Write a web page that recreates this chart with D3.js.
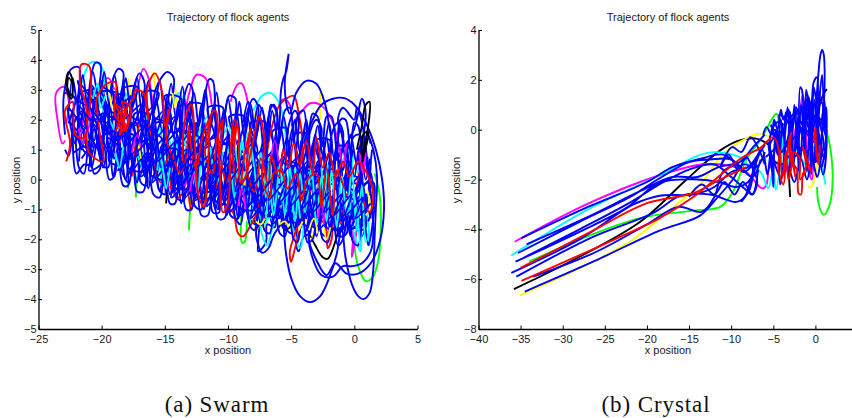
<!DOCTYPE html>
<html>
<head>
<meta charset="utf-8">
<script src="https://cdn.jsdelivr.net/npm/d3@7"></script>
<style>
  html, body { margin: 0; padding: 0; background: #fff; overflow: hidden; }
  svg { display: block; }
</style>
</head>
<body>
<svg id="chart" width="852" height="418"></svg>
<script>
// matlab line colours
const BLUE = '#0000ff', RED = '#ff0000', GREEN = '#00ff00', CYAN = '#00ffff',
      MAGENTA = '#ff00ff', YELLOW = '#ffff00', BLACK = '#000000';

const titleText = 'Trajectory of flock agents';
const xLabelText = 'x position';
const yLabelText = 'y position';
const swarmCaption = '(a) Swarm';
const crystalCaption = '(b) Crystal';

const swarmXDomain = [-25, 5];
const swarmYDomain = [-5, 5];
const swarmXTicks = [-25, -20, -15, -10, -5, 0, 5];
const swarmYTicks = [-5, -4, -3, -2, -1, 0, 1, 2, 3, 4, 5];

const crystalXDomain = [-40, 5];
const crystalYDomain = [-8, 4];
const crystalXTicks = [-40, -35, -30, -25, -20, -15, -10, -5, 0];
const crystalYTicks = [-8, -6, -4, -2, 0, 2, 4];

// --- swarm trajectories, x,y pairs ---
const swarmGreen = [
  [-17.3,-0.6,-17.2,0,-16.9,0.6],
  [-17.9,-0.3,-17.9,0.4],
  [-13.1,-1.7,-13,-1,-12.9,-0.4],
  [-8.9,-1,-8.9,-2.1,-8.7,-2.1,-8.5,-1.4],
  [0,-2.2,0.3,-2.9,0.9,-3.4,1.4,-3.3,1.9,-2.7,2.1,-1.5,2,-0.5,1.6,0.2]
];
const swarmYellow = [
  [-22.4,0.9,-22,1.4],
  [-19.7,2.8,-19.3,3.2,-19,2.7],
  [-17.9,3.4,-17.7,2.8],
  [-15.9,3.6,-15.7,2.9],
  [-14.2,3.1,-14,2.5],
  [-7.9,2.2,-7.8,1.7],
  [-2.7,2.9,-2.7,2],
  [-8.4,-1.2,-8.2,-1.6,-7.4,-1.6,-6.8,-1.4],
  [-4,-1.5,-3.4,-2,-3,-1.5,-2.6,-1.8],
  [0.6,-0.3,1.1,-1,1.4,-0.7]
];
const swarmYellowTop = [
  [-21.3,1.8,-21.1,1.3],
  [-19.4,2.9,-19.2,2.4],
  [-17.1,1.2,-16.9,0.7],
  [-14.4,2.9,-14.2,2.4],
  [-8.9,0.4,-8.7,-0.2],
  [-5.9,-1.5,-5.5,-1.4,-5.2,-1.6],
  [-3.6,-1.7,-3.2,-1.3,-2.9,-1.8],
  [1,-0.3,1.2,-1,0.9,-1.2],
  [-7.8,-1.4,-7.4,-1.5,-7.1,-1.3],
  [-2.4,-1.6,-2.2,-2,-1.9,-1.6],
  [-4.4,-1.7,-4.1,-1.4]
];
const swarmBlack = [
  [-14.9,-0.8,-14.8,-0.2],
  [-12.6,-0.5,-12,-0.8,-11.8,-0.4],
  [-8,-1.3,-7.5,-1.6,-7,-1.3],
  [-5.8,-1.4,-5.5,-1.7,-4.7,-1.4],
  [-3.7,-1.7,-3.1,-2.2,-2.5,-2.6,-2.1,-2.65,-1.6,-2.2,-1.2,-1.6]
];
const swarmBlackTop = [
  [-22.5,2.8,-22.8,3.3,-22.6,3.6,-22.3,3.3,-22.4,2.7,-22.7,2.9,-22.6,3.4,-22.2,3.1],
  [0.2,1,0.6,1.8,0.9,2.5,1.2,2.6,1.1,1.8,0.6,0.8,0.7,1.5,1.1,1.6,0.6,0.6]
];
const swarmMagenta = [
  [-22.9,1.3,-23.1,1.2,-23.5,2,-23.6,2.9,-23,3.1,-22.6,2.6,-22.8,1.9],
  [-21.6,1.6,-21.2,2.5,-20.9,2.1,-21.4,1.2],
  [-20.4,3,-19.5,3.4,-19,3],
  [-17.2,2.9,-16.7,3.7,-16.3,3.4,-15.9,2.2],
  [-13.5,2,-13,3,-12.5,3.5,-11.8,3.4,-11.3,2.5],
  [-9.8,2.6,-9.2,3.2,-8.9,3.2,-8.4,2.5],
  [-5,1.8,-4.3,2.2,-3.5,2.55,-2.7,2.5,-1.8,2,-1.2,1],
  [-6,2.5,-5.5,2.7,-5,2.4],
  [-0.5,0,-0.1,-1.8,-0.2,-2.6,0,-2.2,0.4,-1],
  [-11,-0.5,-10.6,-0.1,-10.2,-0.5],
  [-15,-0.1,-14.4,-0.3,-14,0.2,-13.4,-0.2,-13.1,0.8,-12.7,0],
  [-7.4,-0.6,-6.9,0.4,-6.4,-0.5,-6,0.6,-5.6,-0.7],
  [-3,-1.5,-2.6,-0.6,-2.3,-1.6,-2,-0.5],
  [-19.4,1.6,-18.8,1.1,-18.1,1.9]
];
const swarmMagentaTop = [
  [-21.8,1.7,-21.5,1.2,-21.2,1.8],
  [-17.6,0.9,-17.2,1.5,-16.9,1],
  [-13,-0.4,-12.7,0.2,-12.4,-0.5],
  [-9.2,-0.9,-8.9,-0.3,-8.6,-1],
  [-6.6,0.7,-6.3,1.3,-6,0.6],
  [-2.9,-1.3,-2.6,-0.7,-2.4,-1.5],
  [-1.2,1.1,-0.9,0.5,-0.6,1.2],
  [0.4,0.9,0.7,0.2,0.9,0.9]
];
const swarmCyan = [
  [-21.6,3.2,-20.9,3.9,-20.3,3.9,-19.8,3.5,-19.9,2.4,-19,1.6,-19.5,0.7,-18.3,0.9,-18.6,2,-17.9,2.9,-17.6,1.4,-16.6,0.3,-16.9,1.4,-15.7,1.2,-15.2,-0.2,-14.5,0.9,-14.9,2,-13.8,2.9,-13.4,1.2,-12.7,-0.2,-12.8,0.9,-11.6,2.1,-11.9,0.2,-11,-0.6,-10.8,1,-9.9,1.8,-10.1,0.1,-9.2,-0.9,-9.3,0.4,-8.3,1.6,-8.6,-0.4,-7.4,-1.1,-7.8,0.5],
  [-8,2.3,-7.3,2.8,-6.7,2.9,-6,2.6,-5.6,2,-5.4,1.2,-5.6,0,-6.3,-1.2,-7.4,-1.4,-6.9,-2.2,-6.3,-1.4,-5.5,-1,-4.9,-1.6,-4.3,-2.3,-3.9,-1.2,-3.1,0.6,-2.7,-0.7,-1.8,0.9,-2.1,-0.9,-1.1,-1.5,-1.2,0.4,-0.2,1,-0.4,-1,0.5,-2.4,0.6,-1.2,1.2,-2.2,0.9,-0.8,0.2,0.3],
  [-16.5,2.2,-16,0.9,-15.4,1.7,-14.9,0.4,-14.2,1.4,-13.7,-0.3,-13.2,0.6],
  [-11.4,1.1,-10.9,-0.2,-10.4,0.9,-9.7,-0.5,-9.1,0.8,-8.5,-1.1,-8.1,0.2,-7.3,-0.7,-6.8,0.7,-6.3,-1,-5.8,0.2,-5.2,-0.9,-4.6,0.5,-4.2,-1.6,-3.6,0.3],
  [-8.3,-1.5,-7.9,-0.9,-7.1,-1.5,-6.6,-0.8]
];
const swarmCyanTop = [
  [-20.7,2.7,-20.3,3.2,-20.1,2.4,-19.7,2.8],
  [-18.9,0.9,-18.6,0.4,-18.3,1.1],
  [-15.6,0.3,-15.4,0.9,-15.1,0.2,-14.9,-0.3,-14.6,0.4],
  [-12.7,0.3,-12.4,-0.4,-12.2,0.5],
  [-9.7,0.2,-9.5,-0.6,-9.2,0.5,-8.9,-0.3],
  [-7,-1.3,-6.7,-0.4,-6.4,-1.2,-6.1,-0.2],
  [-4.9,-1.1,-4.6,-0.3,-4.3,-1.3],
  [-2.6,0.4,-2.4,-0.5,-2.1,0.5],
  [-0.4,-1.2,-0.1,-0.4,0.3,-1.5,0.5,-2.4],
  [-9.5,1.5,-9.2,0.5,-8.9,1.3,-8.5,0.3,-8.2,1.1,-7.7,-0.2,-7.4,0.9,-7,-0.6,-6.7,0.6,-6.3,-0.9,-5.9,0.5,-5.5,-1.2,-5.1,0.4,-4.7,-1.4,-4.3,0.2,-3.9,-1.1,-3.4,0.4,-3,-1.5,-2.6,0.1,-2.2,-1.4,-1.8,0.3,-1.4,-1.6,-1,0.1,-0.6,-1.2,-0.2,0.3,0.2,-1.7,0.6,-0.2,0.9,-2.1,1.2,-1.7]
];
const swarmBlueBack = [-22.3,2.2,-22,0.2,-21.4,0.5,-20.9,0.5,-21.1,2.1,-20.4,1.9,-20,0.5,-19.5,0.4,-19.2,1.9,-18.7,2.3,-18.4,0.3,-17.9,-0.1,-18.1,1.6,-17.3,1.9,-16.9,-0.1,-16.4,-0.2,-16.6,1.3,-15.9,1.7,-15.5,-0.3,-15,-0.5,-15.2,1.2,-14.4,1.6,-14.1,-0.6,-13.5,-0.7,-13.7,1,-13,1.3,-12.6,-0.9,-12.1,-1,-12.3,0.7,-11.5,1.1,-11.2,-1.1,-10.7,-1.1,-10.9,0.6,-10.1,0.9,-9.8,-1.2,-9.2,-1.3,-9.4,0.4,-8.7,0.7,-8.3,-1.3,-7.8,-1.5,-8,0.3,-7.2,0.5,-7.6,-2,-7.6,-2.4,-7,-2.1,-6.9,-1.5,-6.3,-1.6,-6.5,0.2,-5.8,0.4,-5.5,-1.6,-4.9,-1.8,-5.1,0,-4.3,0.2,-4.6,-2.2,-4.4,-2.4,-4,-1.9,-3.5,-1.8,-3.7,-0.1,-2.9,0,-2.6,-1.8,-2,-1.9,-2.3,-0.2,-1.5,-0.2,-1.2,-1.9,-0.6,-1.8,-0.8,-0.3,0,-0.4,0.3,-1.7,0.9,-1.6,0.7,-0.2,1.5,-0.1,1.5,-1];
const swarmBlueFront = [-22.9,1.5,-23,2.8,-22.4,3.7,-21.8,3.75,-21.9,2.2,-21.3,1.6,-20.9,3.3,-20.5,3.9,-20.1,3.85,-20.3,2.4,-19.6,1.8,-19.2,3.2,-18.7,3.7,-18.3,3.6,-18.6,2.2,-17.9,1.4,-17.5,3.0,-17.0,3.55,-16.6,3.2,-16.9,1.8,-16.1,1.1,-15.8,2.9,-15.2,3.45,-14.8,3.6,-14.3,3.4,-14.6,1.9,-13.9,1.2,-13.5,2.7,-13.1,3.2,-12.8,3.0,-13,1.5,-12.3,0.9,-11.9,2.5,-11.5,3.35,-11.2,3.3,-11.0,2.2,-10.6,0.8,-10.2,2.3,-9.9,2.8,-9.4,2.7,-9.6,1.1,-8.9,0.5,-8.5,2.2,-8.0,2.7,-7.6,2.4,-7.9,1,-7.1,0.3,-6.8,2.1,-6.4,2.5,-6.1,2.2,-6.3,0.8,-5.6,0.2,-5.2,1.8,-4.7,2.3,-4.4,2,-4.6,0.5,-3.9,0,-3.5,1.6,-3.0,2.0,-2.6,1.7,-2.8,0.3,-2.1,-0.2,-1.8,1.5,-1.3,1.9,-0.9,1.6,-1.1,0.1,-0.4,-0.4,-0.1,1.4,0.4,1.5,0.7,1.1,0.5,-0.2,1,-0.6,1.3,0.6];
const swarmBlueMid = [-22.7,2.4,-22.1,1.2,-21.6,2.7,-21,1.4,-20.6,2.6,-20.7,1.1,-19.9,1.3,-19.7,2.5,-19,1,-18.8,2.7,-18.2,1.1,-17.7,2.4,-17.8,0.7,-17,0.9,-16.7,2.5,-16.2,0.6,-15.9,2.2,-15.3,0.4,-14.9,2.5,-14.6,0.2,-14,0.3,-13.8,2.3,-13.3,0,-12.9,2,-12.5,-0.2,-12,1.9,-11.7,-0.4,-11.1,-0.3,-11,1.8,-10.4,-0.5,-10,1.6,-9.6,-0.7,-9.1,1.5,-8.8,-0.8,-8.2,-0.8,-8.1,1.4,-7.5,-0.9,-7.1,1.4,-6.7,-1,-6.2,1.5,-5.9,-1.1,-5.3,-1.1,-5.2,1.3,-4.6,-1.2,-4.2,1.3,-3.8,-1.3,-3.3,1.2,-3,-1.3,-2.5,-1.2,-2.4,1.1,-1.8,-1.3,-1.4,1.2,-1,-1.4,-0.5,0.9,-0.2,-1.3,0.3,-1.2,0.4,0.8,0.9,-1,1.3,0.2,1.5,-0.8,1.1,-1.4];
const swarmBlueOuter = [-5.6,-1.5,-5.4,-2.5,-5,-3.3,-4.3,-3.9,-3.5,-4.1,-2.7,-3.9,-2,-3.3,-1.4,-2.5,-1,-1.6,-0.7,-2.6,-0.2,-3.5,0.3,-3.9,0.7,-4,1.2,-3.8,1.5,-3,1.6,-2,1.7,-1,1.8,0.1,1.5,1,1,1.6];
const swarmBlueArc = [-4,1.2,-3.4,1.9,-2.6,2.5,-1.7,2.7,-0.8,2.72,0,2.5,0.9,1.9,1.7,1,2.2,0,2.35,-1,2,-2.1,1.3,-2.8,0.3,-3.15,-0.6,-3.15,-1.5,-2.8,-2.2,-3.2,-3,-2.7,-3.6,-2,-3.4,-1.2];
const swarmBlueSpike = [-6.1,1,-5.9,2,-5.8,3,-5.6,3.4,-5.4,3.6,-5.2,4.2,-5.5,3.3,-5.4,2.6,-5.1,2.2,-4.6,2.9,-3.8,3.3,-3,3.2,-2.3,2.5,-2,1.8,-1.8,1.2,-2.6,-0.6,-3.6,-1.9,-3.4,-2.5,-2.6,-3.2,-1.7,-3.25,-0.9,-2.9,-0.2,-2.9,0.6,-2.8,1.3,-2.4,1.5,-1.8,0.5,2.1,0.2,2.4,0,2,-0.9,2.4,-1.3,2,-0.9,1,-7.7,-1.6,-7.6,-2.2,-7.3,-2.45,-6.8,-2.3,-6.3,-1.8,-0.2,1.5,0.6,2.7,0.9,2.2,0.4,0.8];
const swarmRowUpper = [-22.8,3,-21.3,2.5,-21.9,3.3,-20.4,2.5,-20.9,3.2,-19.5,2.4,-20.1,3.1,-18.6,2.6,-19.2,2,-17.7,2.8,-18.3,2,-16.9,2.5,-17.4,1.8,-16,2.4,-16.5,1.6,-15.1,2.3,-15.7,1.4,-14.2,2.1,-14.8,1.3,-13.4,1.9,-13.9,1.1,-12.5,1.9,-13.1,1,-11.6,1.7,-12.2,0.9,-10.7,1.7,-11.3,0.7,-9.9,1.5,-10.4,0.5,-9,1.4,-9.5,0.4,-8.1,1.2,-8.7,0.3,-7.3,1,-7.8,0.2,-6.4,1,-6.9,0.1,-5.5,0.8,-6.1,0,-4.6,0.7,-5.2,-0.1,-3.7,0.6,-4.3,-0.2,-2.9,0.5,-3.4,-0.3,-2,0.4,-2.5,-0.3,-1.1,0.3,-1.7,-0.4,-0.3,0.3,-0.8,-0.4,0.6,0.2,0,-0.5,1.2,0];
const swarmRowCentre = [-22.6,2.4,-21.2,1.7,-21.9,2.5,-20.3,1.7,-20.9,2.4,-19.4,1.5,-20,2.2,-18.5,1.8,-19.1,1.2,-17.6,1.9,-18.2,1.1,-16.8,1.7,-17.3,0.9,-15.9,1.5,-16.4,0.8,-15,1.4,-15.6,0.6,-14.1,1.3,-14.7,0.5,-13.3,1,-13.8,0.3,-12.4,1.1,-13,0.2,-11.5,0.8,-12.1,0,-10.6,0.8,-11.2,-0.1,-9.8,0.6,-10.3,-0.3,-8.9,0.5,-9.4,-0.4,-8,0.4,-8.6,-0.5,-7.2,0.2,-7.7,-0.6,-6.3,0.1,-6.8,-0.7,-5.4,0,-6,-0.8,-4.5,-0.1,-5.1,-0.9,-3.6,-0.2,-4.2,-1,-2.8,-0.3,-3.3,-1.1,-1.9,-0.4,-2.4,-1.1,-1,-0.5,-1.6,-1.2,-0.2,-0.5,-0.7,-1.2,0.7,-0.6,0.1,-1.3,1.3,-0.8];
const swarmRowLower = [-22.2,1.5,-20.8,0.9,-21.4,1.7,-19.9,0.8,-20.4,1.5,-19,0.7,-19.6,1.4,-18.1,0.8,-18.7,0.3,-17.2,1,-17.8,0.2,-16.4,0.9,-16.9,0.1,-15.5,0.7,-16,-0.1,-14.6,0.6,-15.2,-0.2,-13.7,0.4,-14.3,-0.4,-12.9,0.2,-13.4,-0.6,-12,0.1,-12.6,-0.7,-11.1,-0.1,-11.7,-0.9,-10.2,-0.2,-10.8,-1,-9.4,-0.3,-9.9,-1.1,-8.5,-0.4,-9,-1.2,-7.6,-0.5,-8.2,-1.3,-6.8,-0.6,-7.3,-1.4,-5.9,-0.7,-6.5,-1.5,-5,-0.8,-5.6,-1.6,-4.1,-0.9,-4.7,-1.6,-3.2,-1,-3.8,-1.7,-2.4,-1,-2.9,-1.7,-1.5,-1.1,-2,-1.8,-0.6,-1.1,-1.2,-1.8,0.2,-1.1,-0.3,-1.7,1,-1.1];
const swarmRowA = [-21.8,2.9,-20.5,3,-21.2,2.1,-19.7,2.1,-20.2,2.9,-18.9,2.9,-19.3,2.3,-18,2.2,-18.4,3,-17.2,3.1,-17.6,2.1,-16.2,2,-16.8,2.9,-15.5,2.9,-15.9,2.1,-14.5,2,-15,2.8,-13.7,2.7,-14.1,1.7,-12.8,1.6,-13.2,2.5,-12,2.5,-12.5,1.5,-11.1,1.4,-11.6,2.4,-10.4,2.4,-10.8,1.3,-9.4,1.2,-9.9,2.1,-8.7,2.1,-9.1,1,-7.7,0.9,-8.2,1.9,-7,1.9,-7.4,0.7,-6.1,0.6,-6.5,1.6,-5.3,1.7,-5.7,0.6,-4.4,0.5,-4.8,1.5,-3.6,1.5,-4,0.4,-2.7,0.3,-3.1,1.3,-1.9,1.3,-2.3,0.2,-1,0.1,-1.4,1.1,-0.2,1,-0.6,0,0.6,-0.1,0.3,0.9,1.1,0.7];
const swarmRowB = [-21.6,0.7,-20.6,1.2,-21,0.3,-19.9,0.6,-20.3,1.3,-19,1.6,-19.4,0.6,-18.3,0.5,-18.7,1.3,-17.5,1.5,-17.9,0.4,-16.6,0.3,-17,1.2,-15.7,1.3,-16.2,0.2,-14.9,0,-15.3,0.9,-14,1,-14.4,-0.2,-13.1,-0.3,-13.6,0.6,-12.3,0.6,-12.7,-0.5,-11.4,-0.6,-11.9,0.4,-10.6,0.2,-11,-0.7,-9.7,-0.8,-10.1,0.2,-8.8,0.1,-9.2,-0.9,-7.9,-1,-8.3,0,-7,-0.2,-7.5,-1.1,-6.1,-1.2,-6.6,-0.2,-5.3,-0.3,-5.7,-1.3,-4.4,-1.4,-4.8,-0.4,-3.5,-0.5,-4,-1.5,-2.7,-1.5,-3.1,-0.5,-1.8,-0.6,-2.2,-1.6,-0.9,-1.6,-1.3,-0.6,0,-0.7,-0.4,-1.6,0.7,-1.5,0.3,-0.6,1.3,-0.5];
const swarmRowC = [-22.5,1.9,-21.7,1.6,-21.5,2.2,-20.7,1.9,-20.6,2.7,-19.9,2.7,-19.8,1.9,-19,2.1,-19,2.8,-18.2,2.8,-18.2,1.6,-17.4,1.3,-17.4,2.2,-16.5,2.2,-16.5,1.2,-15.7,1,-15.7,1.9,-14.8,1.8,-14.8,0.8,-14,0.8,-14,1.6,-13.2,1.6,-13.2,0.5,-12.3,0.4,-12.3,1.4,-11.5,1.3,-11.4,0.3,-10.6,0.1,-10.6,1.2,-9.7,1.1,-9.7,0,-8.9,-0.1,-8.9,1,-8,0.9,-8,-0.2,-7.1,-0.3,-7.1,0.8,-6.3,0.7,-6.3,-0.4,-5.4,-0.5,-5.4,0.6,-4.6,0.5,-4.6,-0.5,-3.7,-0.6,-3.7,0.4,-2.9,0.3,-2.9,-0.8,-2,-0.8,-2,0.2,-1.2,0.2,-1.2,-0.9,-0.3,-1,-0.3,0.1,0.5,0,0.5,-1,1.2,-0.3];
const swarmFillTopA = [-22.6,2.3,-22.3,3.4,-21.9,2.5,-21.5,3.5,-21.1,2.4,-20.7,3.6,-20.2,2.6,-19.8,3.6,-19.4,2.5,-19,3.5,-18.5,2.4,-18.1,3.4,-17.7,2.3,-17.2,3.4,-16.8,2.2,-16.3,3.3,-15.9,2.2,-15.4,3.3,-15,2,-14.5,3.2,-14.1,2,-13.6,3.1,-13.2,1.9,-12.7,2.9,-12.3,1.8,-11.8,3,-11.4,1.7,-10.9,2.9,-10.5,1.6,-10,2.7,-9.5,1.5,-9.1,2.6,-8.7,1.4,-8.2,2.5,-7.8,1.4,-7.3,2.4,-6.9,1.2,-6.5,2.3,-6,1.2,-5.6,2.1,-5.1,1,-4.7,2,-4.3,0.9,-3.8,2,-3.4,0.8,-2.9,1.8,-2.5,0.8,-2,1.9,-1.6,0.7,-1.1,1.7,-0.7,0.7,-0.3,1.5,0.2,0.5,0.6,1.4,1.1,0.2,1.4,1];
const swarmFillTopB = [-22.9,2.9,-22.1,2.7,-22.6,1.9,-21.7,2.9,-21.3,2.1,-20.9,3.1,-20.4,2.2,-20,3.3,-19.6,2.2,-19.2,3,-18.8,2.1,-18.3,3.1,-17.9,1.9,-17.4,2.9,-17,1.8,-16.6,2.9,-16.1,1.7,-15.7,2.7,-15.2,1.6,-14.8,2.8,-14.3,1.5,-13.9,2.6,-13.4,1.5,-13,2.6,-12.5,1.4,-12.1,2.5,-11.6,1.2,-11.2,2.4,-10.7,1.1,-10.3,2.3,-9.8,1,-9.3,2.2,-8.9,1,-8.4,2,-8,0.9,-7.5,2,-7.1,0.8,-6.7,1.9,-6.2,0.7,-5.8,1.7,-5.4,0.7,-4.9,1.7,-4.5,0.5,-4,1.6,-3.6,0.4,-3.1,1.5,-2.7,0.5,-2.2,1.4,-1.8,0.3,-1.3,1.3,-0.9,0.3,-0.5,1.2,0,0.1,0.4,1.1,0.9,0,1.2,0.7];
const swarmFillLowA = [-21.8,0.6,-21.5,1.6,-21,0.8,-20.6,1.7,-20.1,0.7,-19.7,1.8,-19.3,0.6,-18.8,1.6,-18.4,0.5,-17.9,1.5,-17.5,0.3,-17.1,1.4,-16.6,0.1,-16.2,1.2,-15.7,0,-15.3,1.1,-14.8,-0.2,-14.3,1,-13.9,-0.3,-13.5,0.8,-13,-0.5,-12.6,0.6,-12.1,-0.6,-11.7,0.6,-11.2,-0.7,-10.8,0.4,-10.3,-0.8,-9.9,0.3,-9.4,-1,-9,0.1,-8.5,-1,-8.1,0,-7.6,-1.1,-7.2,-0.1,-6.7,-1.2,-6.3,-0.2,-5.9,-1.3,-5.4,-0.3,-5,-1.4,-4.5,-0.4,-4.1,-1.5,-3.6,-0.5,-3.2,-1.6,-2.7,-0.6,-2.3,-1.6,-1.8,-0.6,-1.4,-1.7,-0.9,-0.7,-0.5,-1.6,0,-0.7,0.4,-1.6,0.9,-0.7,1.3,-1.3];
const swarmFillLowB = [-22.2,0.9,-21.2,1.1,-20.8,0.4,-20.3,1.3,-19.9,0.4,-19.4,1.2,-19.1,0.1,-18.6,1.1,-18.1,0,-17.7,1,-17.2,-0.1,-16.8,0.9,-16.3,-0.3,-15.9,0.7,-15.4,-0.4,-15,0.6,-14.6,-0.5,-14.1,0.4,-13.7,-0.8,-13.2,0.3,-12.8,-0.9,-12.4,0.2,-11.9,-1,-11.5,0,-11,-1,-10.5,-0.1,-10.1,-1.2,-9.6,-0.2,-9.2,-1.3,-8.8,-0.3,-8.3,-1.4,-7.9,-0.4,-7.4,-1.5,-7,-0.5,-6.5,-1.5,-6.1,-0.6,-5.6,-1.6,-5.2,-0.7,-4.7,-1.7,-4.3,-0.8,-3.9,-1.8,-3.4,-0.9,-3,-1.9,-2.5,-0.9,-2.1,-1.9,-1.6,-1,-1.2,-1.9,-0.7,-1,-0.3,-1.9,0.2,-0.9,0.6,-1.9,1.1,-1];
const swarmFillCentre = [-22.4,1.3,-22,2.1,-21.6,1,-21.1,2.3,-20.6,1.3,-20.2,2.2,-19.7,1.1,-19.3,2.4,-18.9,0.8,-18.4,2.1,-18,0.7,-17.5,1.9,-17.1,0.6,-16.7,2,-16.2,0.5,-15.8,1.7,-15.3,0.3,-14.9,1.6,-14.4,0.1,-14,1.5,-13.5,-0.1,-13.1,1.3,-12.7,-0.2,-12.2,1.2,-11.8,-0.4,-11.3,1.1,-10.9,-0.4,-10.4,0.9,-10,-0.6,-9.5,0.8,-9.1,-0.7,-8.6,0.7,-8.2,-0.8,-7.7,0.6,-7.3,-0.8,-6.8,0.5,-6.4,-0.9,-6,0.4,-5.5,-1,-5.1,0.3,-4.6,-1.1,-4.2,0.1,-3.7,-1.1,-3.3,0.1,-2.8,-1.2,-2.4,0,-1.9,-1.2,-1.5,-0.1,-1,-1.3,-0.6,-0.1,-0.2,-1.3,0.3,-0.2,0.7,-1.2,1.2,-0.2];
const swarmFringeLow = [-9.6,-0.5,-9.4,-1.3,-9,-1.5,-8.7,-0.8,-8.2,-1.6,-7.9,-1.7,-7.5,-0.9,-7.1,-1.7,-6.7,-1.8,-6.3,-0.9,-5.9,-1.8,-5.5,-1.9,-5.2,-1,-4.8,-2,-4.5,-2.1,-4.1,-1.1,-3.7,-2.1,-3.3,-2,-2.9,-1.1,-2.5,-2,-2.1,-2.1,-1.7,-1.2,-1.3,-2.2,-0.9,-2,-0.5,-1.1,-0.1,-2.1,0.3,-2.2,0.7,-1.2,1.1,-2.2,1.3,-1.9,1.6,-0.9];
const swarmFringeUp = [-8.8,1.9,-8.4,2.6,-8,1.7,-7.6,2.5,-7.2,2.2,-6.9,1.5,-6.6,2.5,-6.2,2.3,-5.9,1.4,-5.5,2.3,-5.1,2.4,-4.8,1.3,-4.4,2.2,-4,2.3,-3.7,1.2,-3.3,2.2,-2.9,2.1,-2.5,1.1,-2.2,2.1,-1.8,2.1,-1.4,1,-1.1,2,-0.7,2,-0.3,0.9,0,1.9,0.3,1.8,0.7,0.6,1,1.5,1.3,1.2];
const swarmFringeLeft = [-22.9,1,-22.6,0.8,-22.2,1.8,-21.8,0.4,-21.4,0.2,-21,1.3,-20.6,0.2,-20.2,0.3,-19.8,1.1,-19.4,0,-19,0.1,-18.7,0.9,-18.3,-0.2,-17.9,-0.2,-17.5,0.7,-17.2,-0.4,-16.7,-0.4,-16.3,0.5,-15.9,-0.5,-15.4,-0.6,-15,0.4,-14.6,-0.8,-14.2,-0.8,-13.8,0.2,-13.3,-1,-12.9,-1,-12.5,0,-12.1,-1.2,-11.6,-1.2,-11.2,-0.2,-10.8,-1.3,-10.3,-1.3,-9.9,-0.4];
const swarmBlobRed = [-18.9,1.6,-18.4,2.3,-18.9,2.5,-18.2,1.8,-18.6,1.5,-18.1,2.3,-18.7,2.2,-18.3,1.6,-17.9,2,-18.4,2.6,-17.7,2.4,-18.1,1.6];
const swarmRedA = [-22.8,0.6,-22.5,1.2,-22.9,2.3,-22.3,2.6,-22.1,1.5,-21.4,1.4,-21.2,2.4,-21.7,3.2,-21.6,3.85,-21,3.8,-20.9,2.6,-21.2,1.7,-21,0.9,-20.5,0.7,-19.9,0.6,-20.2,1.7,-20.4,2.7,-19.6,3.2,-18.9,3.25,-19,2.3,-18.6,1.8,-18,2.4,-17.5,2.7,-17.3,3,-16.7,2.9,-16.3,2,-16.4,3,-15.8,3.55,-15.2,2.9,-15,1.8,-14.6,2.4,-14.9,1.4,-14.3,0.7,-13.8,0.2,-13.3,0.8,-13.1,1.8,-12.9,1,-12.5,0.3,-12.1,1.3,-11.5,2,-11.8,0.8,-11.2,0.2,-10.9,1.3,-10.4,2,-10.6,0.8,-10.1,-0.1,-9.7,1.2,-9.3,1.9,-9.6,0.6,-9.1,-0.3,-8.7,0.8,-8.2,1.7,-8.5,0.3,-7.9,-0.4,-7.4,0.7,-6.8,-0.2,-6.6,0.8,-6,0.1,-5.6,1,-5.2,0.4,-4.8,1.2,-4.3,0.5,-3.8,1.3,-3.3,0.2,-3,1.4,-2.5,0.4,-2,0.9,-1.5,0.1,-0.9,0.6,-0.4,0.1,0.3,0.6,1,0.2,1.5,-0.5,1.2,-1.1,0.6,-0.6];
const swarmRedB = [-17.6,0.1,-17.3,1.2,-16.6,2.5,-16.2,1.6,-15.9,0.5,-15.3,-0.1,-14.9,0.6,-14.4,0.9,-14.5,-0.3,-13.9,-0.6,-13.3,-0.3,-12.9,-1,-12.4,0,-11.8,-0.7,-11.1,-0.5,-10.7,0.5,-10.2,-0.9,-9.6,-1.1,-9.2,-1.8,-8.8,-1.9,-8.3,-1.6,-7.8,-1.2,-7.2,-0.2,-6.8,1.2,-6.3,2.1,-5.9,2.5,-5.4,2.7,-4.8,2.8,-4.4,2.2,-4.1,1.2,-4.3,0.1,-3.9,-0.7,-3.4,-0.3,-5.1,-2.4,-5,-2.75,-4.7,-2.3,-3.9,-1.1,-3.2,-0.5,-2.8,-1.3,-2.3,-1.5,-2.1,-2.3,-1.8,-2,-1.6,-0.9,-1,-1.5,-0.6,-0.5,0,-0.4,0.6,0.4,1.2,0.1];
const swarmRedC = [-13.6,0.6,-13.4,2,-12.9,2.5,-12.6,1,-12.3,-0.6,-11.9,-0.9,-11.6,0.3,-11.3,2.2,-11,2.3,-10.7,0.7,-10.4,-1.1,-10,-0.8,-9.8,1,-9.5,2,-9.2,1.7,-9,-0.1,-8.6,0.1,-8.2,0.9,-7.5,2.1,-7.1,1.2,-7.3,0,-6.7,-0.6,-6.4,0.2,-5.8,0.3,-5.3,-0.3,-4.6,0.2,-4.2,-0.7,-3.7,0,-3,0.2,-2.6,-0.9,-2.2,0.4,-1.7,-1.2,-1.4,0.3,-0.8,-0.3];
const swarmBlueTop = [-22.2,1.9,-21.5,2.3,-21.9,1.4,-21.2,0.9,-20.7,1.8,-20.1,1.2,-19.6,2.2,-19.1,1.4,-18.5,2.8,-18.2,1.6,-17.6,1.8,-17.1,1.2,-16.5,1.9,-16,1,-15.6,1.5,-14.9,1.1,-14.2,0.1,-14.5,-0.6,-13.6,-0.2,-13,0.5,-12.4,-0.4,-12.2,0.6,-11.4,-0.3,-11,0.6,-10.3,-0.3,-9.9,0.6,-9.3,-0.7,-9,0.2,-8.4,-0.5,-7.7,0.4,-7.2,-0.9,-6.6,0.6,-6.1,-0.4,-5.5,-0.5,-5,0.5,-4.5,-0.6,-4,0.5,-3.4,-0.9,-2.9,0.6,-2.2,-1,-1.7,0.4,-1.1,-0.7,-0.6,0.3,-0.1,-1,0.5,0.1,1,-1.1];

// --- crystal trajectories ---
const crystalGreen = [
  [-34,-5.3,-27.2,-4.3,-20.8,-3.55,-14.5,-3.25,-11.3,-3.1,-9.8,-2.5,-8.2,-1.2,-6.5,-0.4,-4.6,0.64,-4.3,-0.4],
  [0.2,-2.3,0.4,-3,1,-3.42,1.7,-3,2.05,-2,1.8,-0.8,1.3,0,0.9,0.7]
];
const crystalYellow = [
  [-35.1,-6.65,-27,-5.4,-21.6,-4.4,-17.7,-3.35,-13.3,-2.05,-11.3,-1.1,-9,-0.5,-6.6,-0.16,-5.4,-0.3],
  [-0.9,-2.3,-0.5,-2.3,0.2,-1.4,0.5,-0.4,0.4,0.3,1.2,-0.1]
];
const crystalBlack = [
  [-35.8,-6.4,-28,-5.1,-20.8,-3.7,-15.3,-2,-11.3,-0.83,-9,-0.43,-7,-0.36,-5.4,-0.63],
  [0.2,0.6,0.8,1.3,1.3,1.6,1.4,1.62],
  [-3,-2.7,-3.1,-2.1,-3.2,-1.7,-2.6,-1.2]
];
const crystalMagenta = [-35.7,-4.5,-27,-2.97,-18.5,-1.83,-13.3,-1.39,-10.5,-1.43,-8.2,-1.7,-6.6,-2.3,-6.2,-2.36,-5.8,-2.2,-5.4,-1.5,-4.4,-1.3,-3.8,-0.4,-3.6,-1.7,-2.7,-1,-2.5,-0.2,-1.9,0.6,-1.5,1.4,-1.2,0.5,-0.9,-1.5,-0.4,-2,-0.3,-0.9];
const crystalCyan = [-36.1,-5.05,-27,-3.2,-18,-1.75,-14,-1.05,-12,-0.9,-9,-1.1,-8,-1.4,-6.5,-1.7,-5.6,-2.35,-5,-1.6,-4.7,-2.4,-4.2,-1.5,-3.9,-0.2,-3.9,-1.8,-2.4,-0.8,-1.1,-1.4,-0.2,-0.7,0.6,-1.3,1.2,-2.2];
const crystalRedA = [-34.9,-6.07,-24.8,-4.55,-18.5,-3.55,-14.5,-2.7,-12.1,-2.05,-8.6,-1.1,-6.6,-0.75,-5,-0.3,-4.3,-0.9,-4.4,-1.6,-3.8,-2.2,-3.5,-1.3,-2.9,-0.1,-3,-1.2,-2.2,-1.6,-2,-2.55,-1.7,-2.6,-1.5,-1.8,-1.1,-1.5,-1.5,-0.7,-0.5,-1.7];
const crystalRedB = [-35,-5.55,-26.4,-4.05,-20,-2.95,-14.5,-2.55,-11.3,-2,-8.2,-1.5];
const crystalRedC = [-0.2,-0.5,0,0.1,0.1,-0.8,0.4,-1.4,0.5,-0.6];
const crystalRedD = [-4.2,-0.8,-3.9,-1.9,-3.5,-0.9,-3.2,-2,-2.8,-1.3,-3.1,-0.4,-2.4,-1.9,-2.6,-0.9,-1.9,-1.1,-1.8,-2,-1.2,-1.7];
const crystalBlueScribble = [-8.8,-2.9,-7.8,-2.4,-7.2,-1.5,-6.3,-0.8,-5.7,-1.8,-5.3,-0.9,-5,-2.3,-4.9,-1,-4.4,-0.1,-4.2,-2.2,-3.7,-1.1,-3.5,0.7,-3.1,0.4,-3,-1.8,-2.6,0.5,-2.3,0.8,-2,-1.6,-1.8,1.7,-1.6,1.6,-1.3,-0.8,-1.1,1.6,-0.8,0.9,-0.5,-1.8,-0.2,1.9,0.2,2.1,0.1,-1.2,0.4,0.9,0.8,2.2,1.1,-0.1,1.3,0.9,1.3,-0.3,0.8,-1.5];
const crystalBlueSpike = [0,0.5,0.3,2,0.6,3,0.8,3.2,1,3,1.1,2,1,1,0.8,0.3,1.3,-0.4,1.1,-1.2];
const crystalBlueCluster = [-6.2,-0.2,-5.8,0.1,-5.2,-0.2,-4.9,0.4,-4.5,0,-4.1,0.8,-3.8,0.4,-3.2,0.8,-2.7,0.1,-2.3,0.9,-1.6,0.2,-1.3,1,-0.9,0.4,-0.8,1.3,-0.4,0.7,-0.2,1.7,0.2,1.1,0.5,1.5,0.2,0.2,-0.3,0.6,-0.7,-0.3,-1.5,0.1,-2.1,-0.4,-2.7,-1.1,-3.4,-0.5,-4,-0.9,-4.7,-0.3,-5.4,-0.6,-4.8,-1.4,-4.1,-1.9,-3.3,-1.5,-2.5,-2.1,-1.7,-1.2,-1,-2,-0.4,-1.2,0.2,-1.9,0.7,-0.7,0.3,0.1,1,0.4];
const crystalBlueFill = [-5.9,-1.1,-4.6,-0.6,-5.2,0,-3.9,-0.1,-4.3,0.6,-3,0.2,-3.5,-0.7,-2.2,-0.2,-2.6,-1.1,-1.4,-0.6,-2,0.4,-0.8,-0.1,-1.2,0.8,-0.1,0.5,-0.6,-0.6,0.5,-0.2,0,-1.3,1,-0.7,0.4,0.5,1.2,0.1,0.7,1.1,-0.3,1,-1,1.2,-1.8,0.7,-2.7,0.6,-3.6,0.2,-4.5,0.3,-5.4,-0.3,-5,-1.2,-4,-1.4,-3,-1,-2,-0.7,-1,-0.9,0,-0.2,0.9,-1.1];
const crystalBlueDense = [-5.6,-0.5,-5.1,-1.7,-4.7,0,-4.3,-1.2,-3.9,0.2,-3.4,-1.2,-3,0.7,-2.6,-1.5,-2.2,0.3,-1.8,-1.3,-1.4,0.6,-1,-1.7,-0.6,1,-0.2,-1.6,0.2,0.7,0.6,-1.4,1,1.3,1.3,-0.8,0.9,-1.8,0.4,-0.8,-0.1,1.2,-0.5,-0.9,-0.9,1.4,-1.3,-0.4,-1.7,1,-2.1,-0.9,-2.5,1,-2.9,-0.9,-3.3,0.9,-3.7,-0.4,-4.1,0.4,-4.5,-1,-4.9,-0.2,-5.3,0.2];
const crystalBlueWave = [-15,-2.7,-13.5,-2.2,-12,-2.6,-10.8,-2.1,-9.6,-2.6,-8.6,-2.1,-7.5,-2.6,-6.9,-2.1,-7.4,-1.6,-8.2,-1.1,-9.2,-1.6,-10.3,-1,-11.3,-1.5,-9.9,-0.7,-8.8,-0.9,-7.7,-0.3,-6.7,-0.8,-6,-1.4];
const crystalBlueLines = [
  [-34.5,-6.5,-26.4,-5.3,-18.5,-4.05,-13.7,-3.45,-11.7,-2.75,-9.8,-2,-8.6,-1.4,-7,-1.5,-6,-0.9],
  [-35.5,-5.9,-26.4,-4.3,-19.3,-3.35,-16,-2.65,-12.5,-2.6,-9.4,-2.9,-8.4,-2.7,-7.6,-1.9,-7,-1.2,-6,-0.6],
  [-36.1,-5.75,-28,-4.4,-21.6,-3,-18.5,-2.65,-14.5,-2.6,-12,-2.3,-10,-1.7,-8,-1.5,-6.5,-0.8],
  [-35.6,-5.3,-28,-4.1,-22.4,-3.13,-18.5,-2.13,-14,-2,-11.5,-2.1,-9.5,-2.3,-8,-2.1,-7,-1.4],
  [-34.7,-5.15,-28,-4,-22.4,-3,-18,-2.1,-15,-1.6,-12,-1.4,-10,-1.9,-8.3,-2.4,-7.5,-2.6,-6.8,-1.6],
  [-35.3,-4.95,-28,-3.7,-22,-2.7,-18.5,-1.95,-15,-1.3,-12.5,-1.2,-10,-1.2,-8.5,-1.7,-7,-1.2],
  [-34.3,-4.6,-27,-3.5,-21,-2.5,-17,-1.9,-14,-1.9,-11.5,-1.5,-9,-1.3,-7.4,-0.7,-6,-0.2],
  [-34.9,-4.35,-27,-3.1,-20,-2.1,-17,-1.5,-13.5,-1.15,-11,-1,-9.5,-1.3,-7.5,-1.9,-6.5,-1.2],
  [-33.5,-5.9,-26,-4.9,-20,-3.8,-16.3,-3.1,-13.5,-3.3,-12,-2.7,-11,-1.7,-9.5,-1.4,-8,-1.1]
];

const swarmLayers = [
  [swarmGreen, GREEN], [swarmBlack, BLACK], [swarmYellow, YELLOW], [[swarmBlueBack], BLUE],
  [[swarmFillTopB], BLUE], [[swarmFillLowB], BLUE], [[swarmFillCentre], BLUE], [[swarmRowC], BLUE],
  [swarmMagenta, MAGENTA], [swarmCyan, CYAN], [[swarmBlueMid], BLUE],
  [[swarmRowA], BLUE], [[swarmRedB], RED], [[swarmRowB], BLUE], [[swarmBlueFront], BLUE],
  [[swarmBlueOuter], BLUE], [[swarmBlueArc], BLUE], [[swarmBlueSpike], BLUE], [[swarmBlueTop], BLUE],
  [[swarmFringeLeft], BLUE], [[swarmFringeUp], BLUE], [[swarmFringeLow], BLUE],
  [[swarmFillTopA], BLUE], [[swarmFillLowA], BLUE], [[swarmRowUpper], BLUE], [[swarmRowLower], BLUE],
  [swarmCyanTop, CYAN], [swarmMagentaTop, MAGENTA], [swarmYellowTop, YELLOW], [[swarmRedA], RED], [[swarmRowCentre], BLUE],
  [[swarmRedC], RED], [[swarmBlobRed], RED], [swarmBlackTop, BLACK]
];

const crystalLayers = [
  [crystalGreen, GREEN], [crystalBlack, BLACK], [crystalYellow, YELLOW], [[crystalMagenta], MAGENTA],
  [[crystalCyan], CYAN], [crystalBlueLines, BLUE], [[crystalBlueWave], BLUE], [[crystalBlueCluster], BLUE],
  [[crystalBlueScribble], BLUE], [[crystalBlueFill], BLUE], [[crystalBlueDense], BLUE], [[crystalBlueSpike], BLUE],
  [[crystalRedA], RED], [[crystalRedB], RED], [[crystalRedC], RED], [[crystalRedD], RED]
];

const svg = d3.select('#chart');
const fmt = d => String(d).replace('-', '\u2212');
const sans = '"Liberation Sans", Arial, sans-serif';

function toPairs(flat) {
  return d3.range(0, flat.length, 2).map(i => [flat[i], flat[i + 1]]);
}

function drawPanel(o) {
  const x = d3.scaleLinear().domain(o.xDomain).range(o.xRange);
  const y = d3.scaleLinear().domain(o.yDomain).range([329, 30]);
  const line = d3.line()
    .x(d => x(d[0]))
    .y(d => y(d[1]))
    .curve(d3.curveCatmullRom.alpha(0.5));

  const g = svg.append('g');

  g.selectAll('path.traj')
    .data(o.layers)
    .enter().append('path')
    .attr('class', 'traj')
    .attr('fill', 'none')
    .attr('stroke', d => d[1])
    .attr('stroke-width', 1.9)
    .attr('d', d => d[0].map(s => line(toPairs(s))).join(''));

  const xAxis = g.append('g')
    .attr('transform', 'translate(0,329)')
    .call(d3.axisBottom(x).tickValues(o.xTicks).tickFormat(fmt).tickSizeInner(-3.5).tickSizeOuter(0).tickPadding(6));
  const yAxis = g.append('g')
    .attr('transform', `translate(${o.xRange[0]},0)`)
    .call(d3.axisLeft(y).tickValues(o.yTicks).tickFormat(fmt).tickSizeInner(-3.5).tickSizeOuter(0).tickPadding(2));

  [xAxis, yAxis].forEach(a => {
    a.select('.domain').attr('stroke', '#000').attr('stroke-width', 1.3);
    a.selectAll('.tick line').attr('stroke', '#000').attr('stroke-width', 1);
    a.selectAll('text')
      .attr('fill', '#1a1a1a')
      .style('font-family', sans)
      .style('font-size', '11px');
  });

  g.append('text')
    .attr('x', o.titleX).attr('y', 21)
    .attr('text-anchor', 'middle')
    .style('font-family', sans).style('font-size', '11px').attr('fill', '#1a1a1a')
    .text(titleText);
  g.append('text')
    .attr('x', o.titleX).attr('y', 354)
    .attr('text-anchor', 'middle')
    .style('font-family', sans).style('font-size', '11px').attr('fill', '#1a1a1a')
    .text(xLabelText);
  g.append('text')
    .attr('transform', `translate(${o.yLabelX},180) rotate(-90)`)
    .attr('text-anchor', 'middle')
    .style('font-family', sans).style('font-size', '11px').attr('fill', '#1a1a1a')
    .text(yLabelText);
  g.append('text')
    .attr('x', o.captionX).attr('y', 412)
    .attr('text-anchor', 'middle')
    .style('font-family', '"Liberation Serif", serif')
    .style('font-size', '23px').style('letter-spacing', '0.9px').attr('fill', '#111')
    .text(o.caption);
}

drawPanel({
  xDomain: swarmXDomain, yDomain: swarmYDomain,
  xTicks: swarmXTicks, yTicks: swarmYTicks,
  xRange: [38.5, 417.5], layers: swarmLayers,
  titleX: 228, yLabelX: 20, caption: swarmCaption, captionX: 217
});

drawPanel({
  xDomain: crystalXDomain, yDomain: crystalYDomain,
  xTicks: crystalXTicks, yTicks: crystalYTicks,
  xRange: [478.5, 857.5], layers: crystalLayers,
  titleX: 668, yLabelX: 460, caption: crystalCaption, captionX: 656
});
</script>
</body>
</html>
